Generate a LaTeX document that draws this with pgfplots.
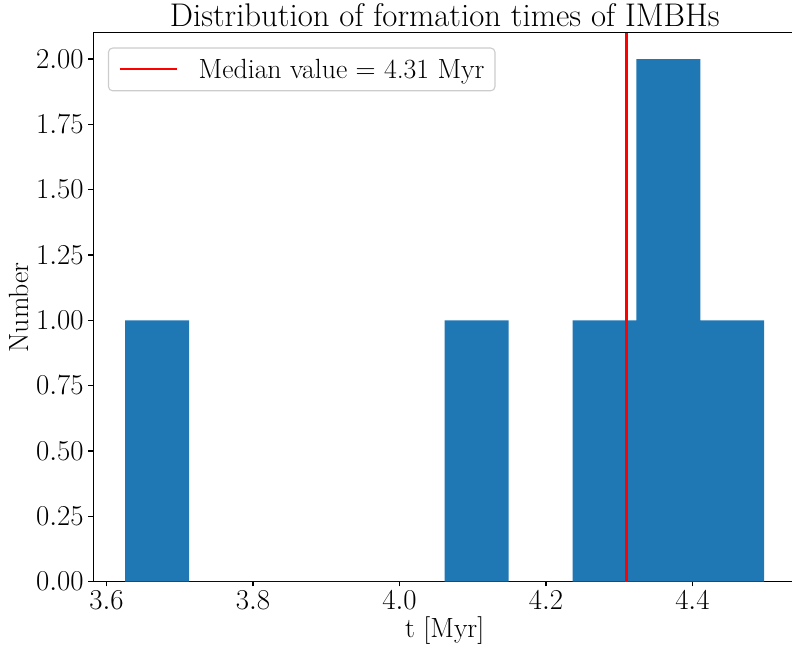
\documentclass[border=0pt]{standalone}
\usepackage{pgfplots}
\pgfplotsset{compat=1.18}
\definecolor{histblue}{HTML}{1F77B4}
\definecolor{legframe}{HTML}{CCCCCC}
\begin{document}
\begin{tikzpicture}[font=\fontsize{20}{24}\selectfont]
\useasboundingbox (-67.2pt,-50.6pt) rectangle (503.1pt,418.8pt);
\begin{axis}[
  at={(0,0)}, anchor=south west,
  scale only axis, width=506.1pt, height=395.1pt,
  xmin=3.5819, xmax=4.5417, ymin=0, ymax=2.1,
  axis line style={line width=0.8pt},
  tick style={line width=0.8pt, black},
  tick align=outside, major tick length=3.5pt,
  xtick pos=left, ytick pos=left,
  xtick={3.6,3.8,4.0,4.2,4.4},
  ytick={0,0.25,0.5,0.75,1,1.25,1.5,1.75,2},
  xticklabel style={/pgf/number format/.cd, fixed, fixed zerofill, precision=1},
  yticklabel style={/pgf/number format/.cd, fixed, fixed zerofill, precision=2},
  xlabel={t [Myr]}, ylabel={Number},
  xlabel style={at={(axis description cs:0.5,0)}, anchor=base, yshift=-40.5pt},
  ylabel style={at={(axis description cs:-0.0929,0.5)}, anchor=base, rotate=0},
  title={Distribution of formation times of IMBHs},
  every axis title shift=0pt,
  title style={at={(axis description cs:0.5,1)}, anchor=base, yshift=4.75pt,
    font=\fontsize{23.6}{28}\selectfont},
  legend style={at={(axis description cs:0,1)}, anchor=north west,
    xshift=10.5pt, yshift=-10.5pt, draw=legframe, line width=0.8pt,
    rounded corners=3pt, fill=white, inner xsep=7.5pt, inner ysep=7.7pt,
    nodes={inner sep=0pt}, column sep=15pt,
    font=\fontsize{20}{24}\selectfont},
  legend cell align=left,
  legend image code/.code={\draw[#1] (0pt,0pt) -- (41pt,0pt);},
]
% histogram of the six formation times, ten equal bins
\addplot[ybar interval, fill=histblue, draw=none, forget plot] coordinates {
  (3.6255,1) (3.7128,0) (3.8000,0) (3.8873,0) (3.9745,0)
  (4.0618,1) (4.1491,0) (4.2363,1) (4.3236,2) (4.4108,1) (4.4981,1)
};
% median of the sample
\addplot[red, line width=1.5pt] coordinates {(4.31,0) (4.31,2.1)};
\addlegendentry{Median value = 4.31 Myr}
\end{axis}
\end{tikzpicture}
\end{document}
